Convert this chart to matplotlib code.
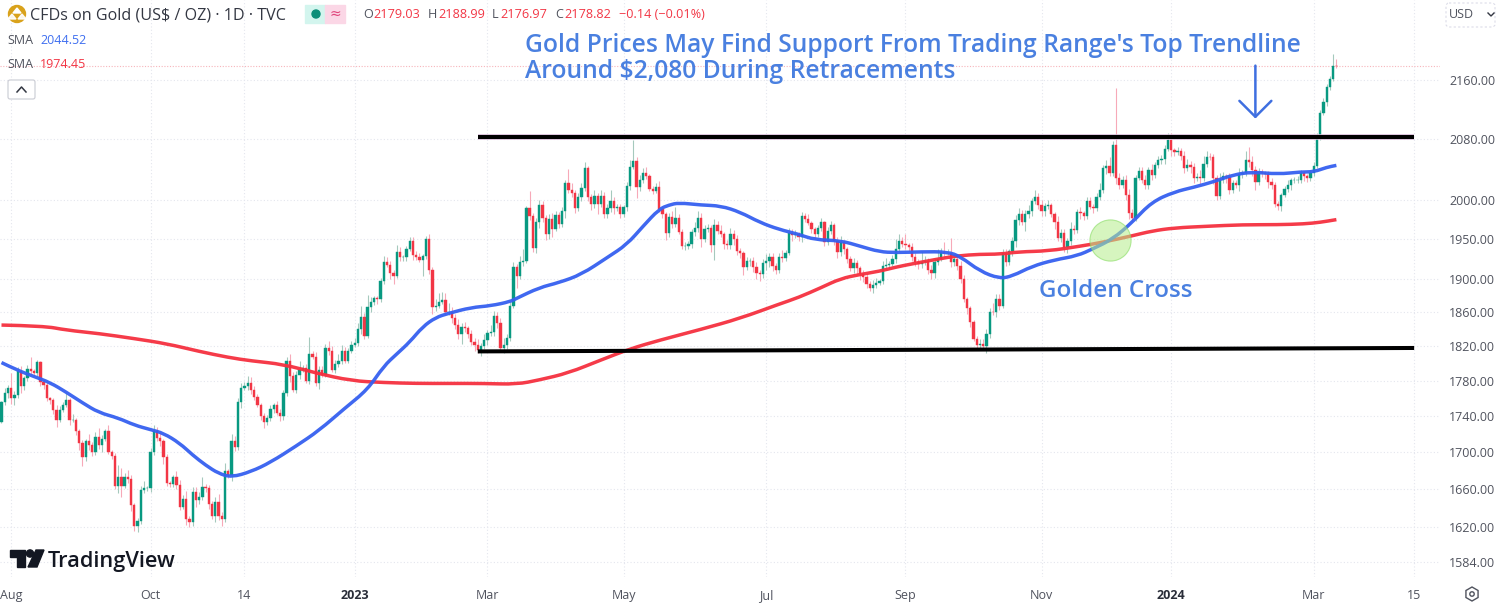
# Gold daily candles, TradingView style
import matplotlib
matplotlib.use('Agg')
import matplotlib.pyplot as plt
from matplotlib.patches import Circle, FancyBboxPatch, PathPatch, Polygon, Rectangle, RegularPolygon
from matplotlib.path import Path
from matplotlib.ticker import NullLocator

plt.rcParams['font.family'] = ['Open Sans', 'DejaVu Sans']

# one close per bar
first_open = 1734
closes = [
1756,1766,1772,1760,1764,1791,1774,1783,1794,1791,
1789,1802,1779,1775,1760,1758,1747,1736,1747,1753,
1758,1736,1736,1723,1710,1695,1712,1708,1700,1717,
1708,1715,1724,1700,1696,1664,1673,1664,1673,1671,
1643,1621,1627,1659,1661,1661,1700,1724,1716,1712,
1695,1667,1666,1673,1665,1641,1650,1629,1626,1657,
1649,1652,1663,1661,1644,1632,1647,1632,1629,1680,
1675,1712,1706,1756,1772,1774,1778,1770,1762,1753,
1740,1733,1738,1748,1752,1744,1740,1766,1803,1785,
1770,1787,1793,1795,1780,1811,1808,1777,1793,1787,
1818,1814,1793,1799,1803,1814,1803,1814,1822,1824,
1840,1854,1832,1866,1872,1877,1876,1898,1921,1918,
1908,1904,1934,1927,1927,1938,1948,1930,1928,1924,
1929,1950,1912,1866,1868,1873,1875,1861,1861,1853,
1845,1835,1843,1841,1835,1825,1821,1816,1820,1827,
1836,1837,1856,1847,1818,1822,1830,1868,1915,1904,
1921,1923,1989,1979,1939,1971,1993,1977,1956,1975,
1963,1980,1969,1985,2022,2012,2008,1989,2004,2015,
2041,2004,1995,2005,1995,2005,1982,1989,1998,1989,
1990,1981,1990,2017,2043,2050,2016,2026,2035,2030,
2014,2011,2016,1988,1981,1957,1978,1969,1977,1959,
1941,1941,1944,1959,1964,1977,1950,1962,1964,1942,
1967,1960,1956,1944,1942,1956,1950,1935,1932,1915,
1922,1923,1915,1908,1906,1920,1923,1927,1916,1911,
1927,1926,1933,1958,1955,1956,1952,1979,1975,1970,
1962,1956,1964,1971,1946,1960,1967,1948,1934,1946,
1937,1925,1914,1920,1914,1907,1903,1894,1890,1893,
1896,1898,1917,1918,1919,1925,1938,1948,1944,1942,
1940,1927,1921,1919,1921,1923,1912,1908,1921,1925,
1934,1933,1933,1921,1925,1917,1901,1876,1865,1849,
1829,1822,1823,1820,1834,1861,1860,1876,1868,1933,
1921,1935,1948,1974,1981,1972,1981,1985,1998,2004,
1993,1985,1992,1993,1981,1971,1951,1958,1940,1947,
1962,1961,1984,1983,1979,1998,1991,1989,2003,2013,
2041,2044,2035,2071,2028,2019,2026,2006,1983,1977,
2028,2037,2026,2019,2038,2032,2045,2052,2053,2066,
2078,2065,2062,2064,2057,2041,2045,2043,2028,2029,
2028,2047,2056,2055,2028,2005,2026,2030,2029,2013,
2021,2019,2033,2034,2051,2049,2038,2023,2036,2034,
2033,2023,2019,1994,1992,2006,2014,2019,2025,2025,
2026,2034,2030,2028,2034,2044,2082,2115,2129,2150,
2161,2179.03,2178.82]

# wick lengths above / below the body, in dollars
upper_wick = [
1,6,3,17,4,5,6,3,4,14,
3,2,1,3,2,2,2,5,4,3,
8,3,6,2,3,4,3,8,3,5,
10,4,2,6,3,3,13,10,4,8,
4,2,3,5,8,3,5,6,4,6,
3,3,2,2,7,5,4,8,3,5,
6,5,10,3,4,4,5,8,4,8,
2,8,6,5,6,5,7,6,4,3,
2,3,3,4,3,5,4,3,4,8,
5,4,10,3,4,20,3,5,4,4,
5,8,6,5,8,7,5,4,4,6,
8,14,5,15,6,3,3,4,8,6,
4,3,8,6,3,3,5,4,5,5,
2,4,6,3,8,10,10,8,10,5,
5,7,5,6,3,4,5,8,4,8,
3,8,6,4,6,8,4,5,6,4,
8,14,3,22,4,5,7,5,3,6,
8,6,4,6,3,18,10,4,5,6,
8,3,3,8,3,8,5,5,14,5,
5,4,3,6,8,28,5,6,6,8,
3,4,6,8,4,3,5,8,14,5,
4,5,3,4,7,8,6,5,5,3,
8,6,7,3,5,8,5,5,4,3,
6,3,4,6,4,5,8,6,5,4,
6,9,3,6,4,5,3,5,4,6,
3,3,4,5,2,5,6,3,5,8,
3,3,4,6,4,3,4,3,4,6,
6,3,5,8,4,5,12,8,5,12,
3,5,6,4,14,6,3,6,5,12,
5,12,4,18,4,4,5,4,3,3,
2,3,6,5,6,4,10,6,6,4,
4,3,4,6,8,6,6,8,4,8,
5,6,4,6,3,3,8,5,4,4,
10,5,4,6,3,6,5,4,5,8,
4,7,12,6,78,6,5,6,8,5,
4,5,6,6,5,8,4,5,5,6,
10,10,3,5,4,6,8,5,5,6,
10,10,8,5,4,4,8,6,3,5,
4,5,8,4,12,18,8,6,5,4,
3,4,5,4,4,3,4,6,3,4,
5,4,3,3,4,5,5,4,6,5,
5,17,9.96]

lower_wick = [
2,3,5,6,8,3,8,4,3,3,
4,3,5,4,3,4,5,8,3,2,
3,6,3,4,8,10,5,6,4,3,
4,8,3,2,3,4,8,12,3,4,
6,5,6,4,3,3,4,3,4,5,
8,3,4,4,5,3,2,7,6,5,
8,5,3,4,5,3,6,4,8,4,
3,6,5,4,7,3,4,5,4,3,
4,6,3,3,4,3,5,4,3,6,
3,4,5,3,3,4,3,3,6,3,
3,4,3,4,3,4,3,3,2,3,
4,6,3,2,5,3,6,3,4,3,
7,10,2,5,4,4,3,6,4,3,
20,4,5,8,4,3,3,4,4,6,
5,6,12,4,5,4,6,4,7,3,
6,4,5,6,5,6,5,4,3,15,
3,4,3,5,5,6,7,6,7,6,
10,3,5,4,8,3,5,6,4,6,
4,6,8,6,14,4,6,5,5,7,
4,4,3,4,4,3,14,5,4,3,
3,4,3,4,4,8,5,5,4,3,
4,5,3,5,5,5,10,4,3,8,
18,4,4,6,5,4,8,5,6,10,
3,5,6,8,8,4,8,8,6,5,
3,5,4,3,8,4,4,6,4,3,
4,6,3,4,5,3,4,6,8,5,
6,5,4,6,7,8,6,4,4,6,
4,3,4,6,5,3,5,6,4,4,
5,5,4,6,5,3,5,8,6,3,
3,5,3,6,4,5,5,3,7,6,
3,5,4,4,8,4,3,5,5,3,
4,3,6,8,6,4,12,5,6,4,
5,6,6,4,3,8,4,5,6,7,
4,5,4,8,5,4,3,6,4,4,
5,8,5,4,8,5,4,6,8,6,
4,3,5,5,5,6,4,4,5,6,
3,8,5,4,5,6,4,8,6,4,
8,4,5,4,8,6,4,4,8,6,
5,4,8,5,4,7,8,10,4,5,
6,8,5,3,5,6,3,4,6,4,
3,5,6,5,4,4,3,4,3,5,
4,3,1.85]

sma50_x = [0,5,10,15,20,25,30,36,41,46,50,55,59,63,67,71,77,83,91,98,106,113,118,122,126,130,134,138,145,151,157,159,166,172,179,187,193,198,203,206,209,216,222,228,234,240,246,251,259,265,271,276,284,292,296,302,308,312,318,325,332,337,343,349,355,362,368,374,380,386,394,401,405,409,412]
sma50 = [1801,1792,1785,1778,1767,1755,1744,1738,1730,1725,1721,1710,1697,1686,1677,1673,1679,1689,1707,1724,1749,1770,1797,1811,1825,1843,1854,1859,1866,1868,1873,1877,1890,1896,1906,1927,1943,1966,1988,1993,1996,1993,1992,1984,1971,1962,1956,1949,1948,1941,1934,1933,1934,1934,1928,1910,1901,1904,1916,1924,1929,1938,1950,1971,1997,2010,2016,2023,2032,2036,2033,2036,2036,2042,2044.52]
sma200_x = [0,13,20,30,41,51,61,70,77,87,97,108,118,128,138,149,159,166,175,185,194,203,216,228,240,246,253,259,265,271,276,281,289,295,302,308,314,323,333,340,349,355,362,372,383,394,402,407,412]
sma200 = [1845,1844,1839,1835,1829,1823,1814,1807,1803,1799,1789,1780,1778,1777,1777,1777,1776,1781,1789,1804,1817,1827,1840,1853,1870,1878,1890,1901,1906,1910,1915,1919,1925,1929,1931,1931,1934,1935,1941,1946,1954,1960,1964,1966,1968,1968,1969,1971,1974.45]

y_ticks = [2160,2080,2000,1950,1900,1860,1820,1780,1740,1700,1660,1620,1584]
x_tick_pos = [3,46,75,109,150,192,236,279,321,361,405,436]
x_tick_labels = ['Aug','Oct','14','2023','Mar','May','Jul','Sep','Nov','2024','Mar','15']

last_close = 2178.82
top_line_x, top_line_y = [147,436], [2082,2082]
bottom_line_x, bottom_line_y = [147,436], [1814,1818]
cross_x, cross_y = 342, 1949
arrow_x, arrow_from, arrow_to = 387, 2180, 2107

assert len(closes) == len(upper_wick) == len(lower_wick) == 413, (len(closes), len(upper_wick), len(lower_wick))

UP, DOWN = '#089981', '#f23645'
UP_WICK, DOWN_WICK = '#a5c9bd', '#f7a9b8'
GRID = '#e4e6ee'
BLUE_TXT = '#4a80e0'


def smooth_line(ax, xs, ys, color, zorder):
    # the read points act as control points, so the line bends instead of kinking
    pts = list(zip(xs, ys))
    verts = [pts[0]]
    codes = [Path.MOVETO]
    for a, b in zip(pts[1:-1], pts[2:]):
        verts += [a, ((a[0] + b[0]) / 2, (a[1] + b[1]) / 2)]
        codes += [Path.CURVE3, Path.CURVE3]
    verts.append(pts[-1])
    codes.append(Path.LINETO)
    ax.add_patch(PathPatch(Path(verts, codes), fc='none', ec=color, lw=2.5, zorder=zorder, alpha=0.95))


fig = plt.figure(figsize=(15, 6.04), dpi=100)
ax = fig.add_axes([0, 27/604, 1440/1500, 577/604])

opens = [first_open] + closes[:-1]   # each bar opens about where the last one closed
xs = list(range(len(closes)))
tops = [max(o, c) for o, c in zip(opens, closes)]
bots = [min(o, c) for o, c in zip(opens, closes)]
highs = [t + u for t, u in zip(tops, upper_wick)]
lows = [b - l for b, l in zip(bots, lower_wick)]
up = [c >= o for o, c in zip(opens, closes)]

ax.set_yscale('log')
ax.vlines(xs, lows, highs, colors=[UP_WICK if u else DOWN_WICK for u in up], lw=0.8, zorder=2)
body_cols = [UP if u else DOWN for u in up]
ax.bar(xs, [t - b for t, b in zip(tops, bots)], bottom=bots, width=0.7,
       color=body_cols, edgecolor=body_cols, linewidth=0.3, zorder=3)

smooth_line(ax, sma200_x, sma200, '#f5303f', 4)
smooth_line(ax, sma50_x, sma50, '#3560f0', 5)

# hand drawn trading range
ax.plot(top_line_x, top_line_y, color='#d9bcd9', lw=4.0, zorder=6, solid_capstyle='butt')
ax.plot(top_line_x, top_line_y, color='black', lw=2.9, zorder=7, solid_capstyle='butt')
ax.plot(bottom_line_x, bottom_line_y, color='black', lw=2.9, zorder=7, solid_capstyle='butt')

ax.scatter([cross_x], [cross_y], s=880, color='#b5ee8c', alpha=0.55, edgecolor='#7ed957', linewidth=0.8, zorder=8)
ax.annotate('', xy=(arrow_x, arrow_to), xytext=(arrow_x, arrow_from),
            arrowprops=dict(arrowstyle='->,head_length=1.15,head_width=1.15', color='#3f6fe0', lw=1.8,
                            shrinkA=0, shrinkB=0, mutation_scale=10), zorder=8)

ax.axhline(last_close, color='#f7b5bb', ls=(0, (1, 1.5)), lw=0.8, zorder=1)

ax.set_xlim(-0.46, 443.98)
ax.set_ylim(1569, 2274)
ax.yaxis.tick_right()
ax.set_yticks(y_ticks)
ax.set_yticklabels(['%.2f' % v for v in y_ticks], fontsize=9, color='#50535e')
ax.yaxis.set_minor_locator(NullLocator())
ax.yaxis.set_minor_formatter(plt.NullFormatter())
ax.set_xticks(x_tick_pos)
ax.set_xticklabels(x_tick_labels, fontsize=9, color='#50535e')
for lab, txt in zip(ax.get_xticklabels(), x_tick_labels):
    if txt in ('2023', '2024'):
        lab.set_fontweight('bold')
        lab.set_color('#2a2e39')
ax.tick_params(axis='both', length=0)
ax.tick_params(axis='y', pad=6.5)
ax.tick_params(axis='x', pad=8.5)
ax.grid(True, color=GRID, ls=(0, (1, 2)), lw=0.8, zorder=0)
ax.set_axisbelow(True)
for s in ax.spines.values():
    s.set_visible(False)

# chrome and notes in picture pixels
ui = fig.add_axes([0, 0, 1, 1], zorder=10)
ui.set_xlim(0, 1500)
ui.set_ylim(604, 0)
ui.axis('off')
ui.patch.set_alpha(0)

ui.add_patch(Circle((17, 14), 8.5, color='#d9a21b'))
ui.add_patch(Polygon([(17, 8), (21, 13), (13, 13)], color='white'))
ui.add_patch(Polygon([(12, 14), (16, 19), (8, 19)], color='white', alpha=0.9))
ui.add_patch(Polygon([(22, 14), (26, 19), (18, 19)], color='white', alpha=0.9))
ui.text(30, 16, 'CFDs on Gold (US$ / OZ) · 1D · TVC', fontsize=11.6, color='#333742', va='center')

ui.add_patch(Rectangle((305, 5), 20, 18, color='#d3f5ee'))
ui.add_patch(Rectangle((325, 5), 20, 18, color='#fbd7e6'))
ui.add_patch(Circle((316, 14), 4, color='#0b8f79'))
ui.text(335, 14, '≈', fontsize=10, color='#e0457b', ha='center', va='center', family='DejaVu Sans')

ohlc_bits = [(363, 'O', '#50535e'), (373, '2179.03', '#f23645'), (428, 'H', '#50535e'), (438, '2188.99', '#f23645'),
             (492, 'L', '#50535e'), (500, '2176.97', '#f23645'), (555, 'C', '#50535e'), (564, '2178.82', '#f23645'),
             (619, '−0.14 (−0.01%)', '#f23645')]
for px, s, col in ohlc_bits:
    ui.text(px, 15, s, fontsize=9.1, color=col, va='center')

ui.text(7, 40, 'SMA', fontsize=9, color='#50535e', va='center')
ui.text(40, 40, '2044.52', fontsize=9, color='#3f6ff0', va='center')
ui.text(7, 65, 'SMA', fontsize=9, color='#50535e', va='center')
ui.text(40, 65, '1974.45', fontsize=9, color='#f23645', va='center')
ui.add_patch(FancyBboxPatch((8, 80), 27, 19, boxstyle='round,pad=0,rounding_size=2', fc='white', ec='#c9cbd3', lw=0.8))
ui.plot([17, 21.5, 26], [92, 87, 92], color='#333742', lw=1.1)

ui.text(525, 46, "Gold Prices May Find Support From Trading Range's Top Trendline", fontsize=17.75,
        color=BLUE_TXT, va='center', fontweight='semibold')
ui.text(525, 71, 'Around $2,080 During Retracements', fontsize=17.75, color=BLUE_TXT, va='center', fontweight='semibold')
ui.text(1039, 291, 'Golden Cross', fontsize=17.5, color=BLUE_TXT, va='center', fontweight='semibold')

ui.add_patch(FancyBboxPatch((1446, 3), 49, 24, boxstyle='round,pad=0,rounding_size=3', fc='white', ec='#dcdce8', lw=0.8, ls=(0, (2, 2))))
ui.text(1449, 15, 'USD', fontsize=9, color='#50535e', va='center')
ui.plot([1488, 1491, 1494], [13, 16, 13], color='#333742', lw=1)

# TradingView mark
ui.add_patch(Polygon([(10, 550), (25, 550), (25, 567), (17, 567), (17, 557), (10, 557)], color='#131722'))
ui.add_patch(Circle((30, 553.5), 3.6, color='#131722'))
ui.add_patch(Polygon([(36, 550), (44, 550), (37, 567), (28, 567)], color='#131722'))
ui.text(48, 561, 'TradingView', fontsize=15.7, color='#131722', va='center', fontweight='semibold')

ui.add_patch(RegularPolygon((1472, 594), 6, radius=7, fc='white', ec='#50535e', lw=1))
ui.add_patch(Circle((1472, 594), 2.2, fc='white', ec='#50535e', lw=1))

fig.savefig('out.png', dpi=100)
